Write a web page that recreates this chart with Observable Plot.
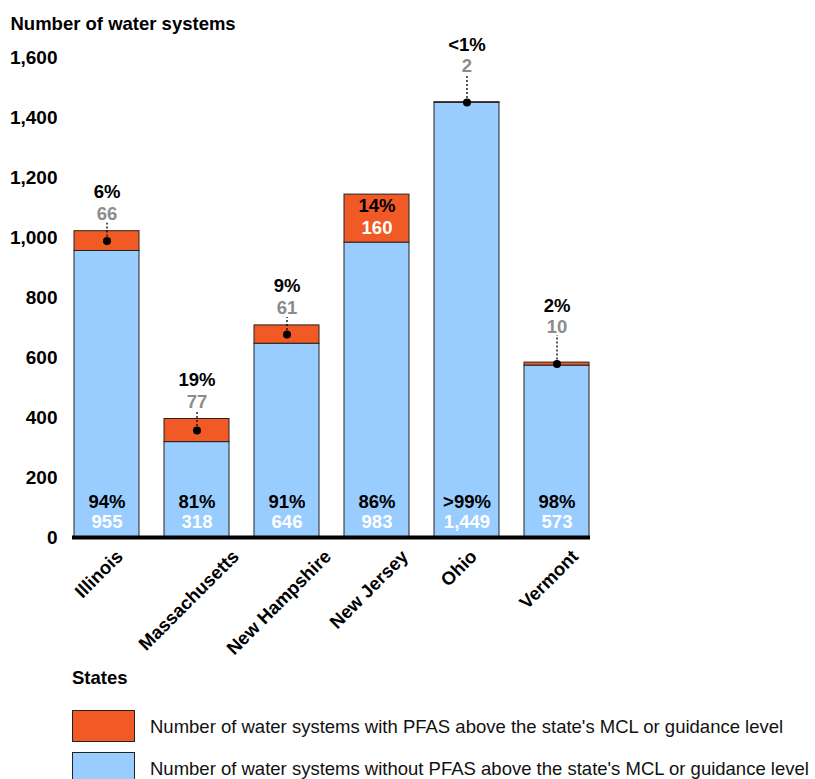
<!DOCTYPE html>
<html>
<head>
<meta charset="utf-8">
<script src="https://cdn.jsdelivr.net/npm/d3@7"></script>
<script src="https://cdn.jsdelivr.net/npm/@observablehq/plot@0.6"></script>
<style>
  html, body { margin: 0; padding: 0; background: #fff; }
  body { font-family: "Liberation Sans", Arial, sans-serif; position: relative; width: 815px; height: 779px; overflow: hidden; }
  #chart { position: absolute; left: 0; top: 0; }
  #legend { position: absolute; left: 72px; top: 667px; }
  #legend .title { font-weight: bold; font-size: 18.5px; margin-bottom: 21px; }
  #legend .row { display: flex; align-items: center; height: 32px; margin-bottom: 10px; }
  #legend .sw { width: 61px; height: 30px; border: 1px solid #222; margin-right: 15px; flex: none; }
  #legend .lab { font-size: 18.5px; color: #111; white-space: nowrap; padding-top: 2px; }
</style>
</head>
<body>
<div id="chart"></div>
<div id="legend"></div>
<script>
// Water systems tested for PFAS, by state
const states = ["Illinois", "Massachusetts", "New Hampshire", "New Jersey", "Ohio", "Vermont"];
const withoutPfas = [955, 318, 646, 983, 1449, 573];
const withPfas = [66, 77, 61, 160, 2, 10];
const pctWithout = ["94%", "81%", "91%", "86%", ">99%", "98%"];
const pctWith = ["6%", "19%", "9%", "14%", "<1%", "2%"];
const yTicks = [0, 200, 400, 600, 800, 1000, 1200, 1400, 1600];

const seriesNames = {
  with: "Number of water systems with PFAS above the state's MCL or guidance level",
  without: "Number of water systems without PFAS above the state's MCL or guidance level"
};
const colors = { with: "#F15A24", without: "#99CCFF" };

const FONT = "'Liberation Sans', Arial, sans-serif";
const LABEL_SIZE = 18.5;
const W = 815, H = 665, mTop = 57, mBottom = 128, mLeft = 72, mRight = 225;
const yMax = 1600;
const unitsPerPx = yMax / (H - mTop - mBottom);

const rows = states.flatMap((s, i) => [
  { state: s, group: "without", value: withoutPfas[i] },
  { state: s, group: "with", value: withPfas[i] }
]);

const summary = states.map((s, i) => {
  const total = withoutPfas[i] + withPfas[i];
  const segPx = withPfas[i] / unitsPerPx;
  return {
    state: s,
    without: withoutPfas[i],
    with: withPfas[i],
    total,
    mid: withoutPfas[i] + withPfas[i] / 2,
    pctWithout: pctWithout[i],
    pctWith: pctWith[i],
    inside: segPx >= 40,     // tall enough to hold its own labels
    lifted: segPx < 10       // thin segment: raise labels so the leader shows
  };
});

const fmt = d3.format(",");

// measure label widths so rotated state names hang centred under their bars
const ctx = document.createElement("canvas").getContext("2d");
ctx.font = `bold ${LABEL_SIZE}px ${FONT}`;
const textWidth = s => ctx.measureText(s).width;

// labels above a bar, joined to the PFAS segment by a dotted leader
function outsideLabels(data, countDy, pctDy) {
  return [
    Plot.ruleX(data, {
      x: "state", y1: "mid", y2: d => d.total + (-countDy - 9) * unitsPerPx,
      stroke: "#000", strokeWidth: 1.3, strokeDasharray: "2,2"
    }),
    Plot.dot(data, { x: "state", y: "mid", r: 4, fill: "#000" }),
    Plot.text(data, { x: "state", y: "total", text: d => fmt(d.with), dy: countDy, fontWeight: "bold", fontSize: LABEL_SIZE, fill: "#8c8c8c" }),
    Plot.text(data, { x: "state", y: "total", text: "pctWith", dy: pctDy, fontWeight: "bold", fontSize: LABEL_SIZE, fill: "#000" })
  ];
}

const inside = summary.filter(d => d.inside);
const outsideLow = summary.filter(d => !d.inside && !d.lifted);
const outsideHigh = summary.filter(d => !d.inside && d.lifted);

const chart = Plot.plot({
  width: W,
  height: H,
  marginTop: mTop,
  marginBottom: mBottom,
  marginLeft: mLeft,
  marginRight: mRight,
  style: { fontFamily: FONT, fontSize: "16px", color: "#000", overflow: "visible" },
  x: { domain: states, paddingInner: 0.28, paddingOuter: 0, label: null, axis: null },
  y: { domain: [0, yMax], ticks: yTicks, label: null },
  color: { domain: ["without", "with"], range: [colors.without, colors.with] },
  marks: [
    Plot.axisY({ ticks: yTicks, tickFormat: fmt, tickSize: 0, tickPadding: 15, fontWeight: "bold", fontSize: 19, label: null }),
    ...states.map(s => Plot.text([s], {
      x: d => d, frameAnchor: "bottom", text: d => d,
      rotate: -45, textAnchor: "end", lineAnchor: "middle",
      dx: 0.354 * textWidth(s) - 8, dy: 16,
      fontWeight: "bold", fontSize: LABEL_SIZE, fill: "#000"
    })),
    Plot.text(["Number of water systems"], {
      frameAnchor: "top-left", dx: -62, dy: -33, textAnchor: "start", lineAnchor: "middle",
      fontWeight: "bold", fontSize: LABEL_SIZE
    }),
    Plot.barY(rows, { x: "state", y: "value", fill: "group", stroke: "#222", strokeWidth: 1 }),
    Plot.ruleY([0], { stroke: "#000", strokeWidth: 4 }),
    // counts and shares without PFAS, at the foot of each bar
    Plot.text(summary, { x: "state", y: () => 0, text: "pctWithout", dy: -35, fontWeight: "bold", fontSize: LABEL_SIZE, fill: "#000" }),
    Plot.text(summary, { x: "state", y: () => 0, text: d => fmt(d.without), dy: -15, fontWeight: "bold", fontSize: LABEL_SIZE, fill: "#fff" }),
    ...outsideLabels(outsideLow, -17, -39),
    ...outsideLabels(outsideHigh, -36, -57),
    // segments tall enough carry their labels inside
    Plot.text(inside, { x: "state", y: "total", text: "pctWith", dy: 11, fontWeight: "bold", fontSize: LABEL_SIZE, fill: "#000" }),
    Plot.text(inside, { x: "state", y: "total", text: d => fmt(d.with), dy: 33, fontWeight: "bold", fontSize: LABEL_SIZE, fill: "#fff" })
  ]
});
document.getElementById("chart").appendChild(chart);

// legend
const legend = document.getElementById("legend");
const title = document.createElement("div");
title.className = "title";
title.textContent = "States";
legend.appendChild(title);
for (const key of ["with", "without"]) {
  const row = document.createElement("div");
  row.className = "row";
  const sw = document.createElement("div");
  sw.className = "sw";
  sw.style.background = colors[key];
  const lab = document.createElement("div");
  lab.className = "lab";
  lab.textContent = seriesNames[key];
  row.appendChild(sw);
  row.appendChild(lab);
  legend.appendChild(row);
}
</script>
</body>
</html>
